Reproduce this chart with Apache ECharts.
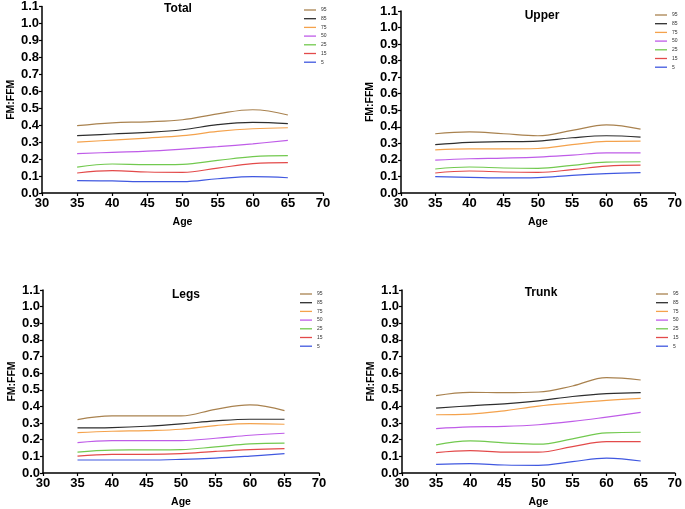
<!DOCTYPE html>
<html>
<head>
<meta charset="utf-8">
<script src="https://cdn.jsdelivr.net/npm/echarts@6/dist/echarts.min.js"></script>
<style>
html,body{margin:0;padding:0;background:#fff;}
#c{width:685px;height:509px;}
</style>
</head>
<body>
<div id="c"></div>
<script>
var ages = [35, 40, 45, 50, 55, 60, 65];
var percentiles = ['95', '85', '75', '50', '25', '15', '5'];
var panelTitles = ['Total', 'Upper', 'Legs', 'Trunk'];
var xTicks = [30, 35, 40, 45, 50, 55, 60, 65, 70];
var yTicks = [0, 0.1, 0.2, 0.3, 0.4, 0.5, 0.6, 0.7, 0.8, 0.9, 1.0, 1.1];

// Total
var total95 = [0.397, 0.414, 0.420, 0.432, 0.467, 0.491, 0.460];
var total85 = [0.338, 0.348, 0.357, 0.373, 0.403, 0.416, 0.409];
var total75 = [0.300, 0.312, 0.324, 0.338, 0.363, 0.379, 0.385];
var total50 = [0.232, 0.240, 0.247, 0.259, 0.273, 0.290, 0.310];
var total25 = [0.153, 0.171, 0.167, 0.169, 0.192, 0.214, 0.220];
var total15 = [0.118, 0.132, 0.124, 0.122, 0.147, 0.173, 0.179];
var total5  = [0.073, 0.071, 0.067, 0.067, 0.084, 0.096, 0.090];

// Upper
var upper95 = [0.358, 0.370, 0.358, 0.346, 0.378, 0.412, 0.386];
var upper85 = [0.292, 0.306, 0.310, 0.314, 0.334, 0.346, 0.338];
var upper75 = [0.261, 0.267, 0.267, 0.269, 0.292, 0.312, 0.314];
var upper50 = [0.199, 0.207, 0.211, 0.217, 0.229, 0.243, 0.243];
var upper25 = [0.145, 0.157, 0.151, 0.149, 0.167, 0.187, 0.189];
var upper15 = [0.121, 0.133, 0.127, 0.125, 0.141, 0.163, 0.169];
var upper5  = [0.099, 0.095, 0.091, 0.093, 0.107, 0.117, 0.123];

// Legs
var legs95 = [0.321, 0.343, 0.343, 0.343, 0.383, 0.409, 0.375];
var legs85 = [0.271, 0.273, 0.281, 0.295, 0.313, 0.323, 0.323];
var legs75 = [0.243, 0.251, 0.255, 0.263, 0.285, 0.297, 0.293];
var legs50 = [0.183, 0.195, 0.195, 0.195, 0.209, 0.227, 0.239];
var legs25 = [0.126, 0.138, 0.139, 0.141, 0.157, 0.175, 0.179];
var legs15 = [0.102, 0.112, 0.112, 0.116, 0.130, 0.141, 0.147];
var legs5  = [0.078, 0.078, 0.078, 0.082, 0.090, 0.102, 0.116];

// Trunk
var trunk95 = [0.465, 0.485, 0.483, 0.487, 0.523, 0.573, 0.559];
var trunk85 = [0.390, 0.404, 0.416, 0.434, 0.460, 0.477, 0.483];
var trunk75 = [0.350, 0.354, 0.374, 0.402, 0.420, 0.436, 0.448];
var trunk50 = [0.267, 0.277, 0.280, 0.290, 0.310, 0.336, 0.364];
var trunk25 = [0.169, 0.193, 0.181, 0.173, 0.205, 0.241, 0.245];
var trunk15 = [0.123, 0.135, 0.125, 0.125, 0.159, 0.189, 0.189];
var trunk5  = [0.052, 0.056, 0.048, 0.046, 0.068, 0.090, 0.072];

var panelData = [
  [total95, total85, total75, total50, total25, total15, total5],
  [upper95, upper85, upper75, upper50, upper25, upper15, upper5],
  [legs95, legs85, legs75, legs50, legs25, legs15, legs5],
  [trunk95, trunk85, trunk75, trunk50, trunk25, trunk15, trunk5]
];

var colors = ['#a9824f', '#2e2e2e', '#f4a24c', '#bf5ce8', '#72c94f', '#e34a4a', '#4058e0'];

var grids = [
  {left: 42, top: 6, width: 281, height: 187},
  {left: 401, top: 11, width: 276, height: 182},
  {left: 43, top: 290, width: 276, height: 184},
  {left: 402, top: 290, width: 275, height: 184}
];
var titlePos = [[178, 3], [542, 10], [186, 289], [541, 287]];
var legendPos = [[304, 6], [655, 11], [300, 290], [656, 290]];

var font = 'Liberation Sans, Arial, Helvetica, sans-serif';

var option = {
  animation: false,
  backgroundColor: '#fff',
  grid: [], xAxis: [], yAxis: [], series: [], title: [], legend: []
};

for (var p = 0; p < 4; p++) {
  option.grid.push(grids[p]);
  option.xAxis.push({
    type: 'value', gridIndex: p, min: xTicks[0], max: xTicks[xTicks.length - 1], interval: 5,
    name: 'Age', nameLocation: 'middle', nameGap: 24,
    nameTextStyle: {fontFamily: font, fontWeight: 'bold', fontSize: 10.5, color: '#000'},
    axisLine: {lineStyle: {color: '#000', width: 1.5}},
    axisTick: {show: true, length: 3, lineStyle: {color: '#000', width: 1.2}},
    axisLabel: {fontFamily: font, fontWeight: 'bold', fontSize: 13, color: '#000', margin: 4},
    splitLine: {show: false}
  });
  option.yAxis.push({
    type: 'value', gridIndex: p, min: yTicks[0], max: yTicks[yTicks.length - 1], interval: 0.1,
    name: 'FM:FFM', nameLocation: 'middle', nameGap: 24,
    nameTextStyle: {fontFamily: font, fontWeight: 'bold', fontSize: 10.5, color: '#000'},
    axisLine: {show: true, lineStyle: {color: '#000', width: 1.5}},
    axisTick: {show: true, length: 3, lineStyle: {color: '#000', width: 1.2}},
    axisLabel: {fontFamily: font, fontWeight: 'bold', fontSize: 13, color: '#000', margin: 3,
      formatter: function (v) { return v.toFixed(1); }},
    splitLine: {show: false}
  });
  option.title.push({
    text: panelTitles[p], left: titlePos[p][0], top: titlePos[p][1], textAlign: 'center', padding: 0,
    textStyle: {fontFamily: font, fontWeight: 'bold', fontSize: 12, color: '#000'}
  });
  option.legend.push({
    data: percentiles, orient: 'vertical', left: legendPos[p][0], top: legendPos[p][1],
    icon: 'rect', itemWidth: 12, itemHeight: 1.3, itemGap: 0.7, selectedMode: false,
    textStyle: {fontFamily: font, fontSize: 5, color: '#333', lineHeight: 8, height: 8, padding: [0, 0, 0, 0]},
    padding: 0
  });
  for (var s = 0; s < percentiles.length; s++) {
    var d = [];
    for (var i = 0; i < ages.length; i++) d.push([ages[i], panelData[p][s][i]]);
    option.series.push({
      type: 'line', name: percentiles[s], xAxisIndex: p, yAxisIndex: p,
      data: d, smooth: 0.4, symbol: 'none', showSymbol: false,
      lineStyle: {color: colors[s], width: 1.2}, itemStyle: {color: colors[s]}
    });
  }
}

var chart = echarts.init(document.getElementById('c'), null, {renderer: 'canvas'});
chart.setOption(option);
</script>
</body>
</html>
